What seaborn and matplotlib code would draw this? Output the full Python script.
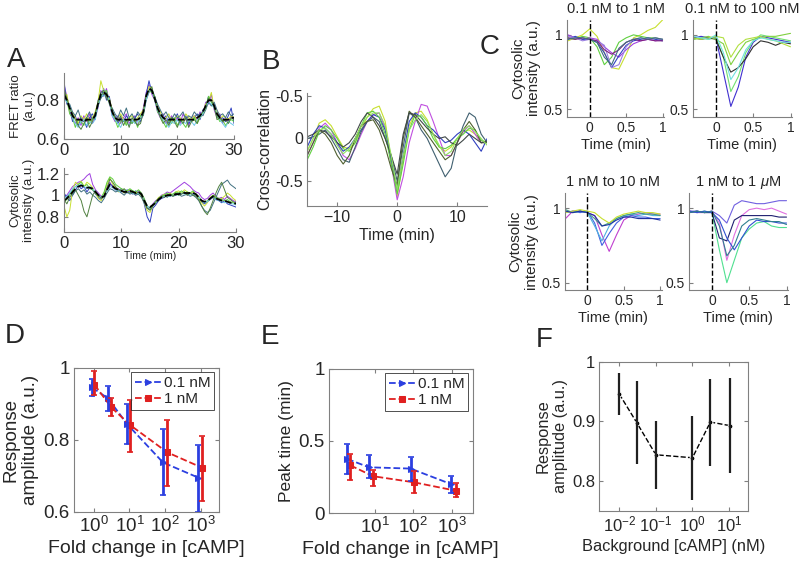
import numpy as np
import matplotlib
matplotlib.use('Agg')
import matplotlib.pyplot as plt
import seaborn as sns

# ---- panel A: FRET ratio traces (0.5 min sampling, 0..30 min)
fret_mean = [0.83,0.80,0.76,0.72,0.70,0.70,0.70,0.69,0.70,0.70,0.70,0.72,0.78,0.83,0.84,0.83,0.80,0.74,0.71,0.70,
             0.70,0.70,0.70,0.70,0.70,0.70,0.70,0.71,0.74,0.82,0.86,0.85,0.81,0.76,0.73,0.71,0.70,0.70,0.70,0.70,
             0.70,0.70,0.70,0.70,0.70,0.70,0.70,0.71,0.72,0.74,0.77,0.80,0.80,0.77,0.73,0.71,0.70,0.70,0.70,0.71,0.71]
fret_cells = [
    [0.88,0.82,0.74,0.70,0.68,0.71,0.67,0.72,0.69,0.73,0.68,0.71,0.76,0.85,0.82,0.86,0.79,0.72,0.69,0.72,0.68,0.71,0.73,0.68,0.70,0.72,0.67,0.70,0.76,0.84,0.88,0.83,0.80,0.74,0.71,0.73,0.68,0.70,0.72,0.69,0.71,0.68,0.73,0.70,0.67,0.71,0.72,0.70,0.74,0.72,0.79,0.78,0.83,0.75,0.71,0.73,0.68,0.71,0.69,0.72,0.70],
    [0.90,0.78,0.77,0.69,0.72,0.67,0.71,0.70,0.66,0.71,0.73,0.70,0.80,0.81,0.86,0.80,0.82,0.73,0.72,0.68,0.71,0.69,0.72,0.70,0.68,0.71,0.73,0.69,0.73,0.83,0.90,0.84,0.82,0.77,0.72,0.70,0.72,0.68,0.71,0.70,0.73,0.69,0.70,0.72,0.68,0.70,0.71,0.73,0.70,0.75,0.76,0.82,0.79,0.78,0.72,0.70,0.71,0.69,0.72,0.76,0.68],
    [0.80,0.83,0.75,0.73,0.71,0.68,0.72,0.70,0.73,0.69,0.71,0.74,0.79,0.90,0.85,0.82,0.81,0.75,0.70,0.71,0.73,0.70,0.68,0.71,0.72,0.69,0.71,0.73,0.75,0.81,0.87,0.86,0.80,0.77,0.74,0.70,0.71,0.73,0.69,0.70,0.72,0.71,0.69,0.73,0.71,0.70,0.72,0.69,0.71,0.73,0.78,0.79,0.84,0.76,0.74,0.70,0.72,0.71,0.70,0.72,0.71],
    [0.82,0.79,0.78,0.74,0.72,0.75,0.70,0.69,0.71,0.74,0.70,0.73,0.77,0.81,0.83,0.84,0.78,0.76,0.73,0.71,0.75,0.72,0.76,0.71,0.73,0.70,0.74,0.72,0.72,0.80,0.84,0.86,0.82,0.78,0.75,0.72,0.74,0.71,0.70,0.73,0.71,0.72,0.74,0.70,0.72,0.71,0.74,0.72,0.73,0.72,0.75,0.79,0.77,0.79,0.75,0.72,0.73,0.71,0.74,0.72,0.73],
    [0.84,0.80,0.73,0.71,0.66,0.70,0.69,0.67,0.71,0.68,0.70,0.71,0.78,0.82,0.84,0.85,0.79,0.73,0.70,0.66,0.69,0.70,0.67,0.71,0.68,0.70,0.66,0.72,0.73,0.82,0.85,0.84,0.82,0.74,0.72,0.69,0.66,0.70,0.68,0.71,0.67,0.70,0.68,0.66,0.70,0.69,0.71,0.68,0.71,0.73,0.76,0.82,0.79,0.76,0.72,0.69,0.70,0.67,0.69,0.70,0.69],
    [0.81,0.79,0.77,0.71,0.68,0.66,0.69,0.70,0.67,0.69,0.68,0.70,0.77,0.83,0.82,0.83,0.80,0.72,0.70,0.68,0.66,0.70,0.69,0.67,0.70,0.68,0.69,0.70,0.74,0.80,0.85,0.85,0.80,0.75,0.72,0.70,0.68,0.66,0.69,0.68,0.70,0.67,0.69,0.68,0.70,0.69,0.67,0.70,0.71,0.73,0.77,0.79,0.78,0.76,0.73,0.70,0.68,0.66,0.69,0.68,0.67],
    [0.86,0.81,0.76,0.73,0.70,0.67,0.65,0.68,0.71,0.66,0.69,0.73,0.79,0.84,0.85,0.81,0.79,0.75,0.71,0.69,0.72,0.67,0.70,0.66,0.71,0.69,0.67,0.68,0.74,0.83,0.85,0.87,0.80,0.76,0.71,0.68,0.70,0.67,0.71,0.69,0.66,0.70,0.68,0.71,0.66,0.69,0.70,0.68,0.72,0.74,0.77,0.81,0.80,0.77,0.70,0.71,0.69,0.70,0.68,0.71,0.70],
]
# ---- panel A: cytosolic intensity traces
cyto_mean = [0.95,0.97,1.00,1.03,1.06,1.08,1.09,1.08,1.07,1.07,1.06,1.03,1.00,0.98,0.99,1.05,1.10,1.08,1.06,1.05,
             1.04,1.03,1.03,1.04,1.03,1.02,1.03,1.01,0.95,0.90,0.89,0.91,0.93,0.96,0.98,0.99,1.00,1.00,1.00,1.01,
             1.01,1.02,1.02,1.02,1.02,1.02,1.01,0.98,0.95,0.94,0.95,0.97,0.99,0.97,0.96,0.95,0.95,0.94,0.93,0.93,0.92]
cyto_cells = [
    [0.98,1.00,1.04,1.08,1.10,1.12,1.13,1.15,1.18,1.20,1.10,1.05,1.02,0.99,1.00,1.08,1.12,1.07,1.05,1.06,1.03,1.04,1.02,1.05,1.03,1.00,1.04,1.02,0.96,0.88,0.87,0.92,0.95,0.97,1.00,1.01,1.03,1.02,1.04,1.06,1.08,1.10,1.12,1.10,1.08,1.05,1.03,1.02,0.98,0.96,0.97,1.00,1.02,0.99,0.97,0.98,0.96,0.99,0.97,0.95,0.94],
    [1.02,0.98,0.95,1.00,1.05,1.09,1.06,1.08,1.03,1.07,1.05,1.01,0.98,0.96,1.00,1.06,1.10,1.09,1.05,1.04,1.06,1.02,1.05,1.03,1.01,1.04,1.02,1.00,0.92,0.80,0.75,0.88,0.91,0.95,0.97,0.98,1.00,0.99,1.01,1.00,1.02,1.01,1.03,1.00,1.02,1.01,1.00,0.98,0.94,0.92,0.94,0.96,0.98,0.96,0.95,0.93,0.95,0.92,0.91,0.90,0.89],
    [0.90,0.80,0.86,1.05,1.12,1.10,1.13,1.08,1.12,1.10,1.07,1.02,0.97,0.95,1.02,1.10,1.16,1.10,1.07,1.03,1.05,1.02,1.04,1.05,1.02,1.03,1.01,0.99,0.93,0.86,0.84,0.90,0.94,0.98,0.99,1.01,0.99,1.02,1.00,1.03,1.04,1.02,1.05,1.03,1.01,1.03,1.00,0.97,0.93,0.90,0.93,0.98,1.00,0.98,0.96,0.97,0.99,1.02,1.00,0.97,0.95],
    [1.00,0.97,1.02,1.00,1.04,1.06,1.03,1.05,1.01,1.03,1.00,0.98,0.95,0.93,0.97,1.02,1.06,1.05,1.03,1.04,1.02,1.00,1.03,1.01,1.02,1.00,1.01,0.98,0.93,0.88,0.87,0.90,0.94,0.96,0.99,1.00,0.98,1.01,0.99,1.00,1.01,0.99,1.00,1.01,0.99,1.00,0.98,0.95,0.90,0.86,0.84,0.86,0.92,0.98,1.04,1.10,1.12,1.14,1.10,1.08,1.06],
    [0.94,0.96,1.00,1.05,1.08,1.10,1.12,1.08,1.10,1.06,1.05,1.02,0.99,0.98,1.03,1.12,1.17,1.15,1.10,1.08,1.06,1.05,1.04,1.06,1.04,1.03,1.05,1.02,0.97,0.90,0.88,0.91,0.94,0.97,0.99,1.00,1.02,1.00,1.01,1.03,1.02,1.04,1.02,1.03,1.02,1.04,1.01,0.99,0.95,0.93,0.95,0.97,1.00,0.98,0.97,0.96,0.95,0.96,0.94,0.93,0.92],
    [0.97,0.99,1.02,1.06,1.08,1.09,1.10,1.08,1.06,1.08,1.06,1.03,1.00,0.98,1.00,1.04,1.08,1.07,1.05,1.04,1.03,1.04,1.02,1.03,1.02,1.01,1.02,1.00,0.95,0.90,0.88,0.90,0.93,0.96,0.98,0.99,1.00,0.99,1.00,1.01,1.00,1.02,1.01,1.02,1.00,1.01,1.00,0.98,0.95,0.93,0.94,0.97,0.98,0.96,0.95,0.94,0.93,0.94,0.92,0.92,0.91],
    [0.96,0.92,0.98,1.02,1.05,1.00,0.95,0.85,0.80,0.90,1.00,1.04,1.00,0.97,0.99,1.06,1.15,1.12,1.08,1.05,1.04,1.06,1.03,1.02,1.04,1.01,1.03,1.00,0.94,0.88,0.86,0.90,0.93,0.97,0.99,0.98,1.00,1.01,0.99,1.02,1.00,1.01,1.03,1.00,1.02,1.00,0.99,0.96,0.90,0.85,0.82,0.88,0.95,1.02,1.08,1.12,1.05,0.98,0.96,0.94,0.93],
]
cell_colors = ['#a040e0', '#3040c0', '#c8e030', '#407080', '#60d040', '#70c8e8', '#508040']

# ---- panel B: cross-correlation (lag -15..15 min), drawn with flipped sign
lag = list(range(-15, 16))
xcorr = [
    [-0.15,0.0,0.18,0.22,0.15,0.02,-0.1,-0.12,-0.05,0.1,0.25,0.35,0.38,0.2,-0.25,-0.68,-0.25,0.15,0.3,0.32,0.22,0.05,-0.1,-0.15,-0.1,0.0,0.08,0.1,0.05,-0.05,-0.02],
    [-0.2,-0.05,0.12,0.18,0.1,-0.05,-0.2,-0.25,-0.12,0.05,0.2,0.28,0.3,0.12,-0.3,-0.72,-0.45,-0.05,0.2,0.4,0.38,0.2,0.0,-0.2,-0.2,-0.05,0.08,0.15,0.05,-0.05,-0.03],
    [-0.1,0.05,0.15,0.12,0.05,-0.05,-0.15,-0.1,0.0,0.1,0.2,0.28,0.25,0.1,-0.25,-0.6,-0.2,0.2,0.3,0.25,0.15,0.1,0.02,-0.05,-0.02,0.05,0.1,0.05,-0.05,-0.15,0.0],
    [0.0,0.02,0.05,0.1,0.0,-0.12,-0.25,-0.28,-0.1,0.08,0.2,0.25,0.2,0.0,-0.2,-0.5,-0.1,0.3,0.25,0.1,0.0,-0.15,-0.3,-0.45,-0.35,-0.05,0.15,0.3,0.25,0.05,-0.05],
    [-0.25,-0.1,0.08,0.15,0.1,0.0,-0.12,-0.15,-0.05,0.15,0.3,0.32,0.25,0.05,-0.3,-0.65,-0.3,0.1,0.28,0.25,0.15,0.0,-0.1,-0.12,-0.08,0.0,0.05,0.12,0.1,-0.02,-0.05],
    [-0.2,-0.05,0.1,0.05,-0.05,-0.2,-0.3,-0.2,0.0,0.15,0.2,0.22,0.1,-0.1,-0.35,-0.55,0.0,0.32,0.25,0.15,0.05,-0.05,-0.15,-0.25,-0.2,-0.05,0.1,0.2,0.1,-0.05,-0.05],
    [0.02,0.05,0.1,0.08,0.02,-0.05,-0.1,-0.05,0.05,0.2,0.3,0.25,0.15,0.0,-0.2,-0.42,0.05,0.3,0.28,0.2,0.12,0.05,0.0,0.02,-0.05,-0.08,-0.02,0.05,0.0,-0.05,-0.03],
    [-0.15,0.0,0.1,0.12,0.05,-0.08,-0.18,-0.12,0.0,0.15,0.25,0.3,0.3,0.15,-0.2,-0.6,-0.2,0.1,0.22,0.28,0.2,0.05,-0.08,-0.2,-0.15,0.0,0.1,0.15,0.08,0.0,-0.08],
]
xcorr_colors = ['#c8e030', '#c050e0', '#3040c0', '#406070', '#60d040', '#506030', '#404848', '#90e060']

# ---- panel C: responses to step changes
step_time = [-0.3,-0.2,-0.1,0.0,0.1,0.2,0.3,0.4,0.5,0.6,0.7,0.8,0.9,1.0]
step_titles = ['0.1 nM to 1 nM', '0.1 nM to 100 nM', '1 nM to 10 nM', r'1 nM to 1 $\mu$M']
step_01_1 = [
    [0.96,0.98,1.0,1.04,0.99,0.88,0.78,0.77,0.87,0.98,1.0,1.03,1.05,1.1],
    [0.98,0.97,0.99,0.98,0.92,0.80,0.85,0.95,0.98,1.0,0.99,0.98,0.98,0.97],
    [1.0,0.98,0.97,0.98,0.97,0.92,0.88,0.85,0.90,0.94,0.96,0.97,0.96,0.97],
    [0.97,0.99,0.97,0.97,0.95,0.88,0.78,0.86,0.93,0.96,0.97,0.98,0.97,0.96],
    [0.99,0.98,0.96,0.97,0.96,0.93,0.78,0.80,0.92,0.97,0.98,0.97,0.98,0.97],
    [0.98,0.97,0.98,0.97,0.96,0.90,0.87,0.90,0.95,0.97,0.96,0.97,0.96,0.96],
    [0.97,0.98,0.98,0.97,0.95,0.85,0.80,0.91,0.95,0.97,0.98,0.97,0.98,0.97],
]
colors_01_1 = ['#c8e030', '#60d040', '#a040e0', '#3040c0', '#9a80e0', '#802080', '#407080']
step_01_100 = [
    [0.98,0.99,0.98,0.98,0.75,0.52,0.65,0.85,0.95,0.99,0.98,0.97,0.96,0.95],
    [0.97,0.98,0.97,0.98,0.85,0.62,0.72,0.88,0.96,1.0,0.99,0.98,0.97,0.96],
    [0.98,0.97,0.98,0.97,0.85,0.75,0.78,0.84,0.92,0.96,0.95,0.93,0.95,0.94],
    [0.97,0.98,0.99,0.97,0.94,0.80,0.88,0.95,0.97,0.98,0.99,0.99,1.0,1.01],
    [0.98,0.97,0.98,0.99,0.98,0.85,0.93,0.97,0.98,0.99,0.97,0.96,0.94,0.92],
    [0.99,0.98,0.97,1.0,0.88,0.70,0.78,0.90,0.96,0.98,0.97,0.96,0.95,0.95],
]
colors_01_100 = ['#4030d0', '#70e070', '#303030', '#80d040', '#b0e040', '#70e0e0']
step_1_10 = [
    [0.93,0.98,0.98,0.97,0.95,0.82,0.71,0.82,0.92,0.95,0.96,0.97,0.96,0.96],
    [0.97,0.98,0.97,0.98,0.90,0.75,0.83,0.90,0.94,0.95,0.94,0.94,0.93,0.93],
    [0.98,0.97,0.98,0.97,0.88,0.78,0.88,0.93,0.95,0.96,0.95,0.96,0.95,0.95],
    [0.99,0.97,0.98,0.97,0.93,0.88,0.90,0.93,0.95,0.96,0.97,0.96,0.96,0.95],
    [0.97,0.98,0.99,0.98,0.97,0.93,0.90,0.94,0.96,0.97,0.98,0.97,0.97,0.96],
    [0.98,0.97,0.98,0.97,0.95,0.88,0.89,0.92,0.94,0.94,0.93,0.93,0.93,0.92],
]
colors_1_10 = ['#c040d0', '#4060e0', '#50b0e0', '#40a080', '#c8e030', '#2030a0']
step_1_1000 = [
    [0.98,0.97,0.98,0.97,0.72,0.50,0.65,0.80,0.86,0.90,0.91,0.88,0.87,0.87],
    [0.98,0.97,0.97,0.98,0.90,0.65,0.82,0.95,0.99,1.0,0.99,1.0,0.98,0.96],
    [0.98,0.98,0.97,0.98,0.95,0.90,1.02,1.05,1.04,1.03,1.03,1.04,1.05,1.05],
    [0.97,0.98,0.97,0.97,0.80,0.78,0.92,0.95,0.95,0.95,0.95,0.95,0.94,0.94],
    [0.98,0.97,0.98,0.97,0.92,0.80,0.72,0.80,0.88,0.92,0.91,0.91,0.90,0.90],
    [0.97,0.98,0.97,0.98,0.88,0.68,0.75,0.88,0.92,0.93,0.92,0.91,0.91,0.89],
]
colors_1_1000 = ['#50e090', '#e070e0', '#7060e0', '#202070', '#3050d0', '#308090']

# ---- panel D: response amplitude vs fold change
amp_fold_01 = [0.9, 2.5, 8.7, 87, 840]
amp_01 = [0.945, 0.915, 0.843, 0.737, 0.695]
amp_01_lo = [0.922, 0.880, 0.787, 0.648, 0.600]
amp_01_hi = [0.968, 0.950, 0.900, 0.830, 0.785]
amp_fold_1 = [1.05, 3.1, 10.7, 115, 1100]
amp_1 = [0.953, 0.890, 0.840, 0.765, 0.722]
amp_1_lo = [0.925, 0.865, 0.765, 0.672, 0.630]
amp_1_hi = [0.990, 0.915, 0.910, 0.855, 0.810]

# ---- panel E: peak time vs fold change
pk_fold_01 = [1.9, 7.0, 85, 975]
pk_01 = [0.375, 0.317, 0.308, 0.200]
pk_01_lo = [0.270, 0.240, 0.220, 0.140]
pk_01_hi = [0.480, 0.400, 0.390, 0.260]
pk_fold_1 = [2.3, 9.0, 103, 1260]
pk_1 = [0.330, 0.255, 0.213, 0.155]
pk_1_lo = [0.230, 0.190, 0.140, 0.110]
pk_1_hi = [0.410, 0.300, 0.290, 0.210]

# ---- panel F: response amplitude vs background
bg_conc = [0.01, 0.03, 0.1, 1.0, 3.1, 10.5]
bg_amp = [0.946, 0.898, 0.844, 0.839, 0.899, 0.893]
bg_lo = [0.911, 0.829, 0.787, 0.768, 0.825, 0.814]
bg_hi = [0.982, 0.968, 0.900, 0.910, 0.972, 0.973]

sns.set_style('ticks')
plt.rcParams['font.family'] = ['Liberation Sans', 'DejaVu Sans']
plt.rcParams['mathtext.fontset'] = 'custom'
plt.rcParams['mathtext.rm'] = 'Liberation Sans'
plt.rcParams['mathtext.it'] = 'Liberation Sans:italic'

GRAY = '#808080'


def style(ax, fs, box=False):
    for side in ['top', 'right']:
        ax.spines[side].set_visible(box)
    for sp in ax.spines.values():
        sp.set_color(GRAY)
        sp.set_linewidth(0.8)
    ax.tick_params(which='both', direction='in', color=GRAY, labelsize=fs, pad=3,
                   top=box, right=box)
    ax.tick_params(which='major', length=3)
    ax.tick_params(which='minor', length=1.5)


def legend(ax):
    leg = ax.legend(loc='upper right', fontsize=11, frameon=True, fancybox=False, edgecolor='k',
                    handlelength=1.7, handletextpad=0.2, borderpad=0.25, labelspacing=0.15,
                    borderaxespad=0.3)
    leg.get_frame().set_linewidth(0.6)


fig = plt.figure(figsize=(8, 5.7), dpi=100)

# A top
ax = fig.add_axes([0.080, 0.756, 0.2125, 0.116])
for y, c in zip(fret_cells, cell_colors):
    sns.lineplot(x=np.arange(len(y)) * 0.5, y=y, color=c, lw=0.7, ax=ax)
sns.lineplot(x=np.arange(len(fret_mean)) * 0.5, y=fret_mean, color='k', lw=1.3, ls='--', ax=ax)
ax.set_xlim(0, 30)
ax.set_ylim(0.6, 0.94)
ax.set_xticks([0, 10, 20, 30])
ax.set_yticks([0.6, 0.8])
ax.set_yticklabels(['0.6', '0.8'])
ax.set_ylabel('FRET ratio\n(a.u.)', fontsize=9.5, labelpad=1)
style(ax, 12)

# A bottom
ax = fig.add_axes([0.080, 0.593, 0.215, 0.112])
for y, c in zip(cyto_cells, cell_colors):
    sns.lineplot(x=np.arange(len(y)) * 0.5, y=y, color=c, lw=0.7, ax=ax)
sns.lineplot(x=np.arange(len(cyto_mean)) * 0.5, y=cyto_mean, color='k', lw=1.3, ls='--', ax=ax)
ax.set_xlim(0, 30)
ax.set_ylim(0.66, 1.25)
ax.set_xticks([0, 10, 20, 30])
ax.set_yticks([0.8, 1.0, 1.2])
ax.set_yticklabels(['0.8', '1', '1.2'])
ax.set_ylabel('Cytosolic\nintensity (a.u.)', fontsize=9.5, labelpad=1)
ax.set_xlabel('Time (mim)', fontsize=7.5, labelpad=0)
style(ax, 12)

# B
ax = fig.add_axes([0.384, 0.639, 0.225, 0.198])
for y, c in zip(xcorr, xcorr_colors):
    sns.lineplot(x=lag, y=y, color=c, lw=0.8, ax=ax)
ax.set_xlim(-15, 15)
ax.set_ylim(-0.79, 0.535)
ax.set_xticks([-10, 0, 10])
ax.set_yticks([0.5, 0, -0.5])
ax.set_yticklabels(['-0.5', '0', '-0.5'])
ax.set_xlabel('Time (min)', fontsize=11.5, labelpad=2)
ax.set_ylabel('Cross-correlation', fontsize=11.5, labelpad=2)
style(ax, 11.5)

# C
c_boxes = [[0.709, 0.795, 0.121, 0.170], [0.866, 0.795, 0.124, 0.170],
           [0.706, 0.491, 0.121, 0.170], [0.861, 0.491, 0.124, 0.170]]
c_sets = [(step_01_1, colors_01_1), (step_01_100, colors_01_100),
          (step_1_10, colors_1_10), (step_1_1000, colors_1_1000)]
for i, (box, (traces, cols), title) in enumerate(zip(c_boxes, c_sets, step_titles)):
    ax = fig.add_axes(box)
    for y, c in zip(traces, cols):
        sns.lineplot(x=step_time, y=y, color=c, lw=0.8, ax=ax)
    ax.axvline(0, color='k', ls='--', lw=1)
    ax.set_xlim(-0.31, 1.02)
    ax.set_ylim(0.45, 1.1)
    ax.set_xticks([0, 0.5, 1])
    ax.set_xticklabels(['0', '0.5', '1'])
    ax.set_yticks([0.5, 1])
    ax.set_yticklabels(['0.5', '1'])
    ax.set_title(title, fontsize=10.5, pad=5)
    ax.set_xlabel('Time (min)', fontsize=10.5, labelpad=2)
    if i % 2 == 0:
        ax.set_ylabel('Cytosolic\nintensity (a.u.)', fontsize=11, labelpad=2)
    style(ax, 10)

BLUE = '#2b3fe0'
RED = '#e02020'

# D
ax = fig.add_axes([0.0925, 0.102, 0.181, 0.253])
ax.set_xscale('log')
sns.lineplot(x=amp_fold_01, y=amp_01, color=BLUE, ls='--', lw=1.3, marker='>', ms=5,
             mec=BLUE, ax=ax, label='0.1 nM')
sns.lineplot(x=amp_fold_1, y=amp_1, color=RED, ls='--', lw=1.3, marker='s', ms=4,
             mec=RED, ax=ax, label='1 nM')
ax.errorbar(amp_fold_01, amp_01,
            yerr=[np.subtract(amp_01, amp_01_lo), np.subtract(amp_01_hi, amp_01)],
            fmt='none', ecolor=BLUE, elinewidth=2, capsize=2, capthick=1.2)
ax.errorbar(amp_fold_1, amp_1,
            yerr=[np.subtract(amp_1, amp_1_lo), np.subtract(amp_1_hi, amp_1)],
            fmt='none', ecolor=RED, elinewidth=2, capsize=2, capthick=1.2)
ax.set_xlim(10 ** -0.55, 10 ** 3.5)
ax.set_ylim(0.6, 1.0)
ax.set_xticks([1, 10, 100, 1000])
ax.set_yticks([0.6, 0.8, 1.0])
ax.set_yticklabels(['0.6', '0.8', '1'])
ax.set_xlabel('Fold change in [cAMP]', fontsize=14, labelpad=3)
ax.set_ylabel('Response\namplitude (a.u.)', fontsize=13.5, labelpad=3)
legend(ax)
style(ax, 13.5, box=True)

# E
ax = fig.add_axes([0.411, 0.100, 0.180, 0.253])
ax.set_xscale('log')
sns.lineplot(x=pk_fold_01, y=pk_01, color=BLUE, ls='--', lw=1.3, marker='>', ms=5,
             mec=BLUE, ax=ax, label='0.1 nM')
sns.lineplot(x=pk_fold_1, y=pk_1, color=RED, ls='--', lw=1.3, marker='s', ms=4,
             mec=RED, ax=ax, label='1 nM')
ax.errorbar(pk_fold_01, pk_01,
            yerr=[np.subtract(pk_01, pk_01_lo), np.subtract(pk_01_hi, pk_01)],
            fmt='none', ecolor=BLUE, elinewidth=2, capsize=2, capthick=1.2)
ax.errorbar(pk_fold_1, pk_1,
            yerr=[np.subtract(pk_1, pk_1_lo), np.subtract(pk_1_hi, pk_1)],
            fmt='none', ecolor=RED, elinewidth=2, capsize=2, capthick=1.2)
ax.set_xlim(10 ** -0.2, 10 ** 3.55)
ax.set_ylim(0, 1)
ax.set_xticks([10, 100, 1000])
ax.set_yticks([0, 0.5, 1])
ax.set_yticklabels(['0', '0.5', '1'])
ax.set_xlabel('Fold change in [cAMP]', fontsize=14, labelpad=3)
ax.set_ylabel('Peak time (min)', fontsize=12.5, labelpad=3)
legend(ax)
style(ax, 13.5, box=True)

# F
ax = fig.add_axes([0.749, 0.104, 0.186, 0.261])
ax.set_xscale('log')
sns.lineplot(x=bg_conc, y=bg_amp, color='k', ls='--', lw=1, marker='o', ms=3.5, ax=ax)
ax.errorbar(bg_conc, bg_amp,
            yerr=[np.subtract(bg_amp, bg_lo), np.subtract(bg_hi, bg_amp)],
            fmt='none', ecolor='#202020', elinewidth=1.6, capsize=0)
ax.set_xlim(10 ** -2.55, 10 ** 1.52)
ax.set_ylim(0.75, 1.0)
ax.set_xticks([0.01, 0.1, 1, 10])
ax.set_yticks([0.8, 0.9, 1.0])
ax.set_yticklabels(['0.8', '0.9', '1'])
ax.set_xlabel('Background [cAMP] (nM)', fontsize=11.8, labelpad=3)
ax.set_ylabel('Response\namplitude (a.u.)', fontsize=11.8, labelpad=3)
style(ax, 12, box=True)

# panel letters
for lab, x, y in [('A', 0.020, 0.895), ('B', 0.339, 0.891), ('C', 0.612, 0.918),
                  ('D', 0.018, 0.411), ('E', 0.338, 0.409), ('F', 0.680, 0.404)]:
    fig.text(x, y, lab, fontsize=20, ha='center', va='center')

fig.savefig('out.png', dpi=100)
